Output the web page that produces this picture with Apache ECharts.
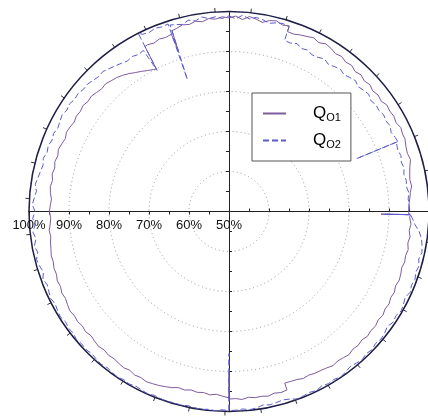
<!DOCTYPE html>
<html>
<head>
<meta charset="utf-8">
<script src="https://cdn.jsdelivr.net/npm/echarts@6/dist/echarts.min.js"></script>
<style>
  html, body { margin: 0; padding: 0; background: #fff; }
  #chart { width: 428px; height: 417px; }
</style>
</head>
<body>
<div id="chart"></div>
<script>
// Direction of each sample, degrees clockwise from the top.
// Repeated angles draw radial jumps and dips.
const angleDeg = [
  0, 2, 4, 6, 8, 10, 12, 14, 16, 18, 18,
  20, 22, 24, 26, 28, 30, 32, 34, 36, 38,
  40, 42, 44, 46, 48, 50, 52, 54, 56, 58,
  60, 62, 64, 66, 67.5, 67.5, 67.5, 68,
  70, 72, 74, 76, 78, 80, 82, 84, 86, 88, 90,
  91, 91, 91,
  92, 94, 96, 98, 100, 102, 104, 106, 108, 110,
  112, 114, 116, 118, 120, 122, 124, 126, 128, 130,
  132, 134, 136, 138, 140, 142, 144, 146, 148, 150,
  152, 154, 156, 158, 160, 162, 162,
  164, 166, 168, 170, 172, 174, 176, 178,
  180, 180, 180,
  182, 184, 186, 188, 190, 192, 194, 196, 198, 200,
  202, 204, 206, 208, 210, 212, 214, 216, 218, 220,
  222, 224, 226, 228, 230, 232, 234, 236, 238, 240,
  242, 244, 246, 248, 250, 252, 254, 256, 258, 260,
  262, 264, 266, 268, 270, 272, 274, 276, 278, 280,
  282, 284, 286, 288, 290, 292, 294, 296, 298, 300,
  302, 304, 306, 308, 310, 312, 314, 316, 318, 320,
  322, 324, 326, 328, 330, 332, 333, 333, 333,
  334, 336, 338, 340, 342, 342.5, 342.5, 342.5,
  344, 346, 348, 350, 352, 354, 356, 358, 360
];

// Q_O1 in percent
const qO1 = [
  98.4, 98.9, 98.1, 99.0, 98.6, 98.0, 98.8, 99.1, 98.5, 98.8, 97.3,
  97.2, 97.6, 97.9, 98.3, 97.8, 98.4, 98.1, 97.6, 97.9, 97.4,
  97.7, 97.1, 97.5, 97.0, 97.4, 96.9, 97.3, 97.0, 97.6, 97.4,
  97.6, 97.3, 97.8, 97.5, 97.6, 97.6, 97.6, 97.4,
  97.1, 96.9, 97.2, 96.6, 96.2, 95.9, 96.1, 95.6, 95.3, 95.0, 94.9,
  95.0, 88.0, 95.3,
  95.2, 95.6, 95.3, 95.7, 95.4, 95.8, 95.5, 95.7, 95.4, 95.7,
  95.9, 95.6, 96.0, 95.8, 96.2, 96.0, 96.4, 96.1, 96.5, 96.3,
  96.6, 96.2, 96.5, 96.3, 96.7, 96.4, 96.2, 96.5, 96.1, 95.9,
  95.8, 95.5, 95.7, 95.3, 95.2, 95.1, 96.9,
  97.1, 96.8, 97.2, 96.9, 97.0, 96.7, 97.1, 96.8,
  96.9, 90.5, 96.6,
  96.2, 95.8, 96.1, 95.7, 95.9, 95.6, 96.0, 95.8, 96.3, 96.6,
  96.9, 97.1, 97.3, 97.0, 97.2, 96.8, 97.1, 96.9, 96.7, 96.9,
  96.6, 96.9, 96.7, 96.4, 96.8, 96.5, 96.8, 96.6, 96.9, 96.6,
  96.3, 96.5, 96.1, 96.3, 95.9, 96.0, 95.7, 95.8, 95.5, 95.3,
  95.0, 95.2, 94.8, 94.6, 94.9, 94.7, 94.5, 94.9, 95.1, 94.8,
  95.2, 94.9, 95.3, 95.0, 95.4, 95.1, 94.8, 95.2, 95.0, 94.7,
  95.0, 94.8, 95.1, 94.7, 94.9, 94.5, 94.2, 94.4, 94.0, 93.7,
  93.2, 92.6, 91.9, 91.3, 90.7, 90.2, 90.0, 96.3, 96.3,
  96.4, 96.1, 96.5, 96.3, 96.6, 96.8, 92.2, 97.4,
  97.6, 98.1, 97.8, 98.3, 97.9, 98.5, 98.2, 98.7, 98.4
];

// Q_O2 in percent
const qO2 = [
  98.9, 98.2, 99.2, 98.4, 99.0, 98.7, 98.1, 98.6, 98.9, 98.5, 95.0,
  94.8, 95.3, 94.6, 94.9, 94.3, 94.5, 95.0, 94.4, 94.8, 95.2,
  94.7, 95.1, 95.5, 94.9, 95.3, 95.6, 95.0, 95.4, 95.2, 95.6,
  95.3, 95.6, 95.1, 95.5, 95.7, 84.5, 95.7, 95.2,
  94.9, 95.2, 94.8, 95.1, 94.7, 95.0, 94.8, 95.2, 94.9, 95.1, 95.2,
  95.2, 88.8, 95.4,
  95.8, 96.6, 97.8, 98.6, 99.0, 99.3, 98.9, 99.4, 99.1, 99.5,
  99.2, 99.6, 99.0, 99.4, 99.7, 99.2, 99.5, 98.9, 99.4, 99.6,
  99.3, 99.7, 99.4, 99.8, 99.5, 99.2, 99.6, 99.9, 99.5, 99.7,
  99.4, 99.8, 99.5, 99.7, 99.9, 99.3, 99.3,
  99.0, 99.2, 99.4, 99.1, 99.6, 99.8, 99.5, 99.7,
  99.8, 85.5, 99.8,
  99.6, 99.9, 99.7, 100.0, 99.8, 99.6, 99.9, 99.7, 100.0, 99.8,
  99.6, 99.9, 99.7, 99.5, 99.8, 99.6, 99.9, 99.7, 99.5, 99.8,
  99.6, 99.4, 99.7, 99.5, 99.8, 99.4, 99.6, 99.3, 99.7, 99.5,
  99.2, 99.6, 99.3, 99.0, 99.5, 98.8, 99.3, 99.6, 98.9, 99.4,
  98.7, 99.3, 98.6, 99.1, 98.5, 99.2, 98.8, 98.4, 98.9, 98.5,
  98.2, 97.9, 98.3, 97.8, 98.1, 97.7, 98.0, 97.6, 97.9, 98.2,
  97.8, 98.1, 97.7, 97.9, 97.5, 97.6, 97.2, 96.9, 97.1, 96.6,
  96.2, 95.8, 95.4, 95.7, 95.3, 95.6, 89.6, 100.0, 99.6,
  99.3, 99.0, 99.4, 99.1, 99.3, 99.2, 84.6, 98.9,
  98.6, 98.2, 98.9, 98.4, 99.1, 98.5, 98.8, 98.3, 98.9
];

// Radial scale and axis labels
const radiusMin = 50;
const radiusMax = 100;
const labelStep = 10;
const tickStep = 5;
// Number of marks around the rim
const rimTickCount = 35;

const CENTER = [229, 211.5];
const RADIUS = 200;
const FONT = '"Liberation Sans", Arial, sans-serif';

const chart = echarts.init(document.getElementById('chart'), null, { renderer: 'canvas' });

// polar 0 carries the data; polars 1-4 draw the four half-axes of the cross;
// polar 5 draws the rim ticks.
const crossAngles = [0, 90, 180, 270];
const polars = [];
for (let i = 0; i < 6; i++) polars.push({ center: CENTER, radius: RADIUS });

const angleAxes = [
  {
    polarIndex: 0, type: 'value', min: 0, max: 360, startAngle: 90, clockwise: true,
    axisLine: { show: true, lineStyle: { color: '#1e1e46', width: 1.5 } },
    axisTick: { show: false }, axisLabel: { show: false }, splitLine: { show: false }
  }
];
const radiusAxes = [
  {
    polarIndex: 0, type: 'value', min: radiusMin, max: radiusMax, interval: labelStep,
    axisLine: { show: false }, axisTick: { show: false }, axisLabel: { show: false },
    splitLine: { show: true, lineStyle: { color: '#9a9a9a', width: 1, type: [1, 3] } }
  }
];
crossAngles.forEach((a, k) => {
  const idx = k + 1;
  angleAxes.push({
    polarIndex: idx, type: 'value', min: 0, max: 360, startAngle: a, show: false
  });
  radiusAxes.push({
    polarIndex: idx, type: 'value', min: radiusMin, max: radiusMax, interval: tickStep,
    axisLine: { show: true, lineStyle: { color: '#222', width: 1 } },
    axisTick: { show: true, length: 3, inside: true, lineStyle: { color: '#222' } },
    axisLabel: {
      show: a === 180, margin: 7, fontSize: 13, fontFamily: FONT, color: '#111',
      formatter: v => (v % labelStep === 0 ? v + '%' : '')
    },
    splitLine: { show: false }
  });
});
angleAxes.push({
  polarIndex: 5, type: 'value', min: 0, max: rimTickCount, interval: 1,
  startAngle: 94, clockwise: true,
  axisLine: { show: false },
  axisTick: { show: true, length: 4, lineStyle: { color: '#333', width: 1 } },
  axisLabel: { show: false }, splitLine: { show: false }
});
radiusAxes.push({ polarIndex: 5, type: 'value', min: radiusMin, max: radiusMax, show: false });

function toPolar(values) {
  return angleDeg.map((a, i) => [values[i], a]);
}

chart.setOption({
  animation: false,
  backgroundColor: '#fff',
  polar: polars,
  angleAxis: angleAxes,
  radiusAxis: radiusAxes,
  legend: {
    orient: 'vertical', left: 252, top: 93,
    backgroundColor: '#fff', borderColor: '#555', borderWidth: 1,
    padding: [12, 10, 11, 10],
    itemWidth: 23, itemHeight: 14, itemGap: 9,
    itemStyle: { opacity: 0 },
    data: ['QO1', 'QO2'],
    formatter: name => '{sp|}{q|Q}{s|' + name.slice(1) + '}',
    textStyle: {
      fontFamily: FONT, color: '#000',
      rich: {
        sp: { width: 22 },
        q: { fontSize: 17, fontFamily: FONT, color: '#000' },
        s: { fontSize: 11, fontFamily: FONT, color: '#000', verticalAlign: 'bottom', padding: [8, 0, 0, 0] }
      }
    }
  },
  series: [
    {
      name: 'QO1', type: 'line', coordinateSystem: 'polar', polarIndex: 0,
      data: toPolar(qO1), symbol: 'none', smooth: false,
      lineStyle: { color: '#7d5b9e', width: 1 }, itemStyle: { color: '#7d5b9e' }, z: 3
    },
    {
      name: 'QO2', type: 'line', coordinateSystem: 'polar', polarIndex: 0,
      data: toPolar(qO2), symbol: 'none', smooth: false,
      lineStyle: { color: '#5b5bd0', width: 1, type: [6, 3] }, itemStyle: { color: '#5b5bd0' }, z: 4
    }
  ]
});
</script>
</body>
</html>
